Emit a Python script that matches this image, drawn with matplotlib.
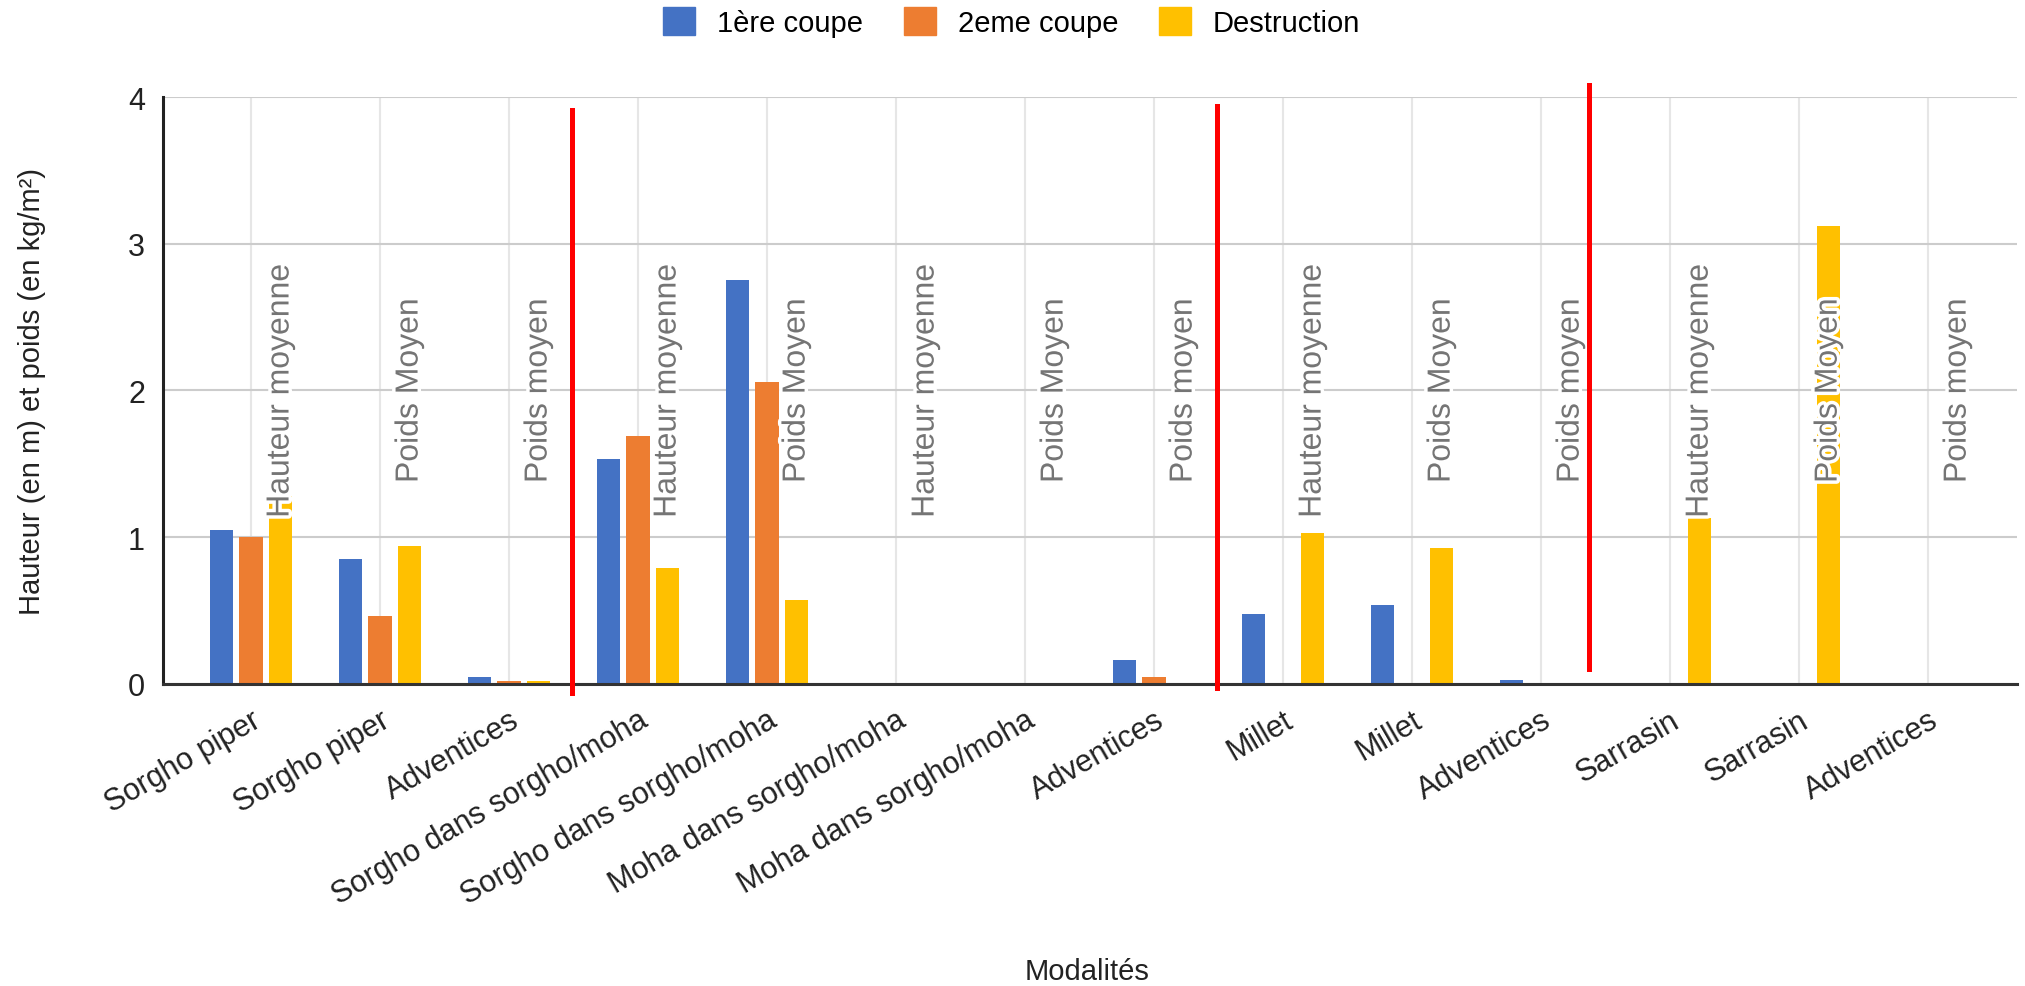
import matplotlib.pyplot as plt
import matplotlib.patheffects as pe
from matplotlib.patches import Patch
import numpy as np

plt.rcParams['font.family'] = ['Liberation Sans', 'DejaVu Sans']

# Data
categories = ["Sorgho piper", "Sorgho piper", "Adventices",
              "Sorgho dans sorgho/moha", "Sorgho dans sorgho/moha",
              "Moha dans sorgho/moha", "Moha dans sorgho/moha", "Adventices",
              "Millet", "Millet", "Adventices", "Sarrasin", "Sarrasin", "Adventices"]
premiere_coupe = [1.05, 0.85, 0.05, 1.53, 2.75, 0, 0, 0.165, 0.48, 0.535, 0.03, 0, 0, 0]
deuxieme_coupe = [1.00, 0.46, 0.017, 1.69, 2.06, 0, 0, 0.05, 0, 0, 0, 0, 0, 0]
destruction = [1.28, 0.94, 0.017, 0.79, 0.57, 0, 0, 0, 1.03, 0.925, 0, 1.13, 3.12, 0]
bar_labels = ["Hauteur moyenne", "Poids Moyen", "Poids moyen",
              "Hauteur moyenne", "Poids Moyen",
              "Hauteur moyenne", "Poids Moyen", "Poids moyen",
              "Hauteur moyenne", "Poids Moyen", "Poids moyen",
              "Hauteur moyenne", "Poids Moyen", "Poids moyen"]
series_names = ["1ère coupe", "2eme coupe", "Destruction"]
colors = ["#4472C4", "#ED7D31", "#FFC000"]

# red separators drawn over the chart
sep_x = [2.49, 7.49, 10.37]
sep_bottom = [-0.06, -0.03, 0.1]
sep_top = [3.91, 3.94, 4.08]

fig = plt.figure(figsize=(20.25, 9.87), dpi=100)
ax = fig.add_axes([0.0805, 0.306, 0.9156, 0.5947])

x = np.arange(len(categories))
width = 0.182
offset = 0.229
for i, (vals, name, col) in enumerate(zip([premiere_coupe, deuxieme_coupe, destruction],
                                          series_names, colors)):
    ax.bar(x + (i - 1) * offset, vals, width, color=col, label=name, zorder=3)

for xi, lab in zip(x, bar_labels):
    ax.text(xi + offset, 2.0, lab, rotation=90, ha='center', va='center',
            fontsize=23, color='#757575', zorder=5,
            path_effects=[pe.withStroke(linewidth=5, foreground='white')])

for sx, b, t in zip(sep_x, sep_bottom, sep_top):
    ax.plot([sx, sx], [b, t], color='red', linewidth=3.6, clip_on=False, zorder=6)

ax.set_xlim(-0.682, 13.69)
ax.set_ylim(0, 4)
ax.set_yticks([0, 1, 2, 3, 4])
ax.tick_params(axis='y', length=0, pad=13, labelsize=22, labelcolor='#222222')
ax.set_xticks(x)
ax.set_xticklabels(categories, rotation=30, ha='right', rotation_mode='anchor',
                   fontsize=22, color='#222222')
ax.tick_params(axis='x', length=0, pad=15)

ax.grid(axis='y', color='#cccccc', linewidth=1.5, zorder=0)
ax.grid(axis='x', color='#e6e6e6', linewidth=1.5, zorder=0)
ax.set_axisbelow(True)
for s in ['top', 'right']:
    ax.spines[s].set_visible(False)
ax.spines['left'].set_color('#222222')
ax.spines['left'].set_linewidth(2.2)
ax.spines['bottom'].set_color('#333333')
ax.spines['bottom'].set_linewidth(2.2)
ax.spines['bottom'].set_zorder(4)

fig.text(0.016, 0.6033, "Hauteur (en m) et poids (en kg/m²)", rotation=90,
         ha='center', va='center', fontsize=21, color='#222222')
fig.text(0.537, 0.015, "Modalités", ha='center', va='center', fontsize=21, color='#222222')

handles = [Patch(facecolor=c, edgecolor=c) for c in colors]
fig.legend(handles, series_names, loc='center', bbox_to_anchor=(0.4995, 0.9767), ncol=3,
           frameon=False, fontsize=21, handlelength=1.1, handleheight=1.1,
           handletextpad=0.75, columnspacing=1.4)

fig.savefig("out.png", dpi=100, facecolor='white')
